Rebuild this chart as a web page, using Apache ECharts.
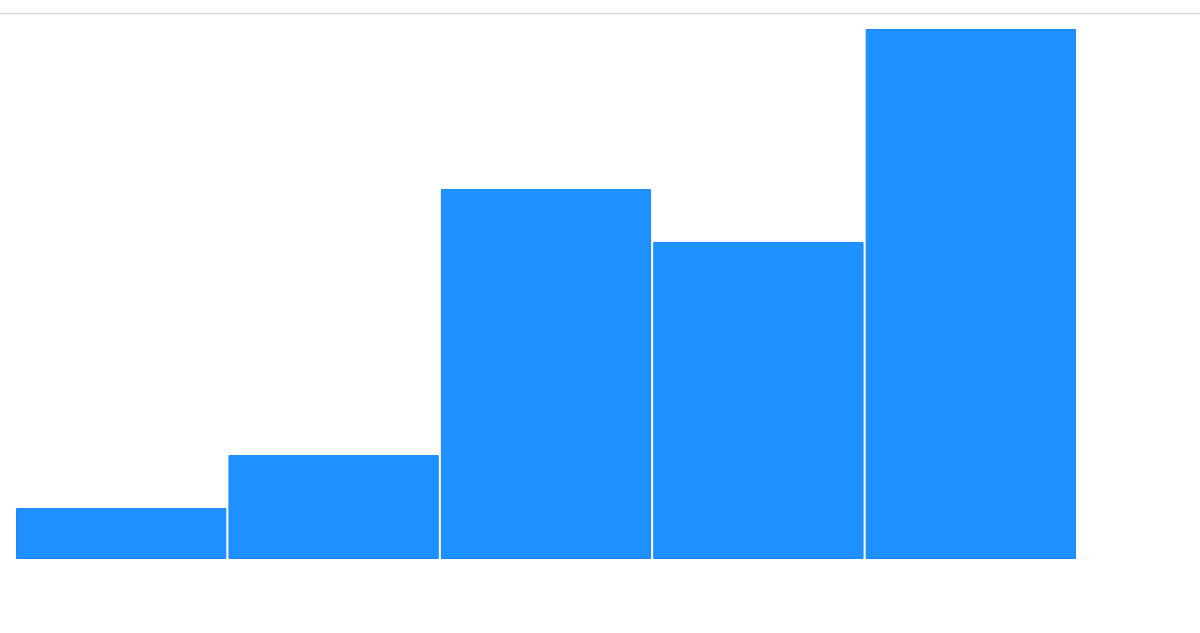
<!DOCTYPE html>
<html>
<head>
<meta charset="utf-8">
<script src="https://cdn.jsdelivr.net/npm/echarts@6/dist/echarts.min.js"></script>
<style>html,body{margin:0;padding:0;background:#fff;}#c{width:1200px;height:633px;}</style>
</head>
<body>
<div id="c"></div>
<script>
var categories = ['A', 'B', 'C', 'D', 'E'];
var values = [0.96, 1.96, 6.98, 5.98, 10];

var chart = echarts.init(document.getElementById('c'), null, {renderer: 'canvas'});
chart.setOption({
  animation: false,
  backgroundColor: '#ffffff',
  grid: {left: 15, right: 123, top: 29, bottom: 74, containLabel: false},
  xAxis: {
    type: 'category',
    data: categories,
    show: false
  },
  yAxis: {
    type: 'value',
    min: 0,
    max: 10,
    show: false
  },
  graphic: [{
    type: 'line',
    shape: {x1: 0, y1: 13.5, x2: 1200, y2: 13.5},
    style: {stroke: '#d9dbe0', lineWidth: 1.5},
    silent: true
  }],
  series: [{
    type: 'bar',
    data: values,
    barCategoryGap: '1%',
    itemStyle: {color: '#1e90ff', borderColor: '#1a86ff', borderWidth: 1}
  }]
});
</script>
</body>
</html>
